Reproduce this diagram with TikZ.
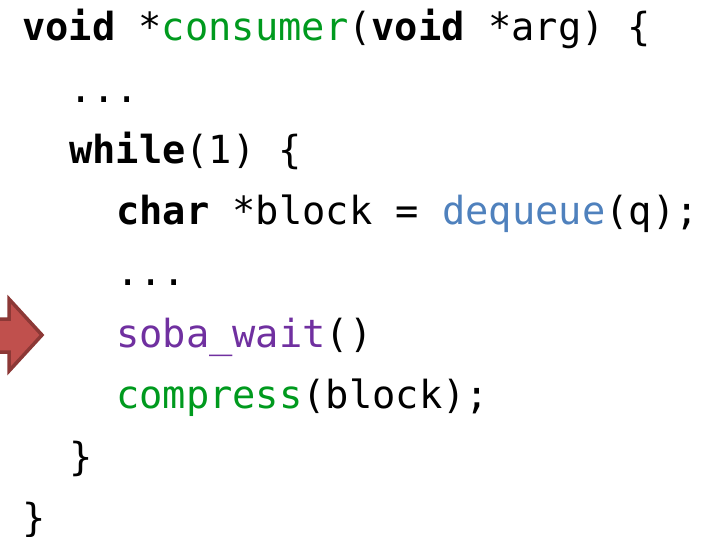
\documentclass[tikz,border=0pt]{standalone}
\usepackage{fontspec}
\setmonofont{DejaVu Sans Mono}
\definecolor{fngreen}{HTML}{009A1E}
\definecolor{fnblue}{HTML}{4F81BD}
\definecolor{fnpurple}{HTML}{7030A0}
\definecolor{arrfill}{HTML}{C0504D}
\definecolor{arrline}{HTML}{8C3836}
\tikzset{
  codeline/.style={anchor=base west, inner sep=0pt, font=\ttfamily\fontsize{38.7}{38.7}\selectfont},
  bigarrow/.style={fill=arrfill, draw=arrline, line width=3.5pt, line join=miter}
}
\begin{document}
\begin{tikzpicture}[x=1pt,y=-1pt]
\useasboundingbox (0,0) rectangle (707,536);
\node[codeline] (l1) at (22,40) {\textbf{void} *\textcolor{fngreen}{consumer}(\textbf{void} *arg) \{};
\node[codeline] (l2) at (69,102) {...};
\node[codeline] (l3) at (69,163) {\textbf{while}(1) \{};
\node[codeline] (l4) at (116,224) {\textbf{char} *block = \textcolor{fnblue}{dequeue}(q);};
\node[codeline] (l5) at (116,285) {...};
\node[codeline] (l6) at (116,347) {\textcolor{fnpurple}{soba\_wait}()};
\node[codeline] (l7) at (116,408) {\textcolor{fngreen}{compress}(block);};
\node[codeline] (l8) at (69,470) {\}};
\node[codeline] (l9) at (22,531) {\}};
\draw[bigarrow] (-6,319) -- (9,319) -- (9,299) -- (42,335) -- (9,371) -- (9,352) -- (-6,352) -- cycle;
\end{tikzpicture}
\end{document}
